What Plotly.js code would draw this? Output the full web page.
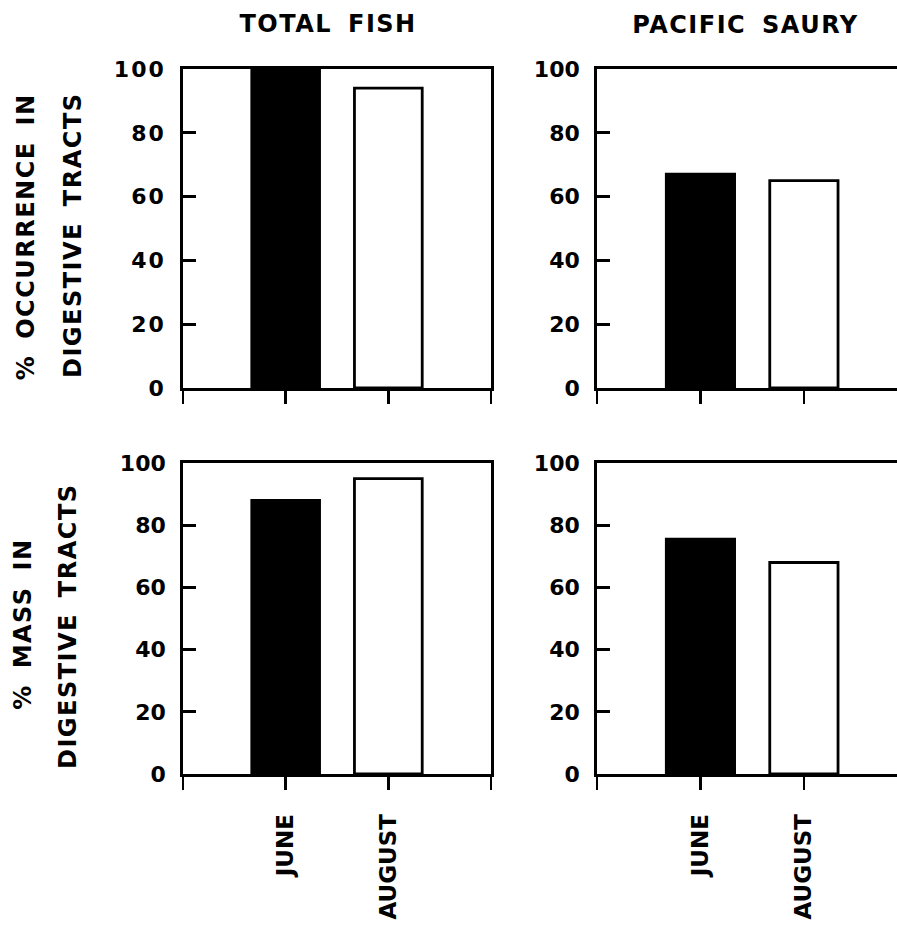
<!DOCTYPE html>
<html>
<head>
<meta charset="utf-8">
<script src="https://cdn.plot.ly/plotly-3.0.1.min.js"></script>
<style>
html,body{margin:0;padding:0;background:#fff;}
#chart{width:897px;height:933px;}
#chart .ytick text{letter-spacing:2px;}
#chart .xtick text{letter-spacing:1px;}
#chart .annotation-text{letter-spacing:1.5px;word-spacing:6px;}
</style>
</head>
<body>
<div id="chart"></div>
<script>
// ---- data ----
const months = ['JUNE', 'AUGUST'];
const occurrenceTotalFish = [100, 94];
const occurrencePacificSaury = [67, 65];
const massTotalFish = [88, 95];
const massPacificSaury = [75.5, 68];
const yTickVals = [0, 20, 40, 60, 80, 100];
const panelTitles = ['TOTAL FISH', 'PACIFIC SAURY'];
const rowTitlesOccurrence = ['% OCCURRENCE IN', 'DIGESTIVE TRACTS'];
const rowTitlesMass = ['% MASS IN', 'DIGESTIVE TRACTS'];

// ---- styling ----
const W = 897, H = 933;
const FONT = 'DejaVu Sans';
const barColors = ['#000000', '#ffffff'];
const xIdx = months.map((m, i) => i);

function barTrace(vals, xa, ya) {
  return {
    type: 'bar', x: xIdx, y: vals, xaxis: xa, yaxis: ya,
    width: 0.66,
    marker: {color: barColors, line: {color: '#000', width: 2.8}},
    hoverinfo: 'x+y', showlegend: false
  };
}

const data = [
  barTrace(occurrenceTotalFish, 'x', 'y'),
  barTrace(occurrencePacificSaury, 'x2', 'y2'),
  barTrace(massTotalFish, 'x3', 'y3'),
  barTrace(massPacificSaury, 'x4', 'y4')
];

const leftDom = [183 / W, 491 / W];
const rightDom = [597 / W, 1];
const topDom = [1 - 388 / H, 1 - 69 / H];
const botDom = [1 - 774 / H, 1 - 463 / H];

function xAxis(dom, anchor, left, showLabels) {
  return {
    domain: dom, anchor: anchor,
    range: left ? [-1, 2] : [-1, 1.9],
    tickmode: 'array',
    tickvals: left ? [-1, 0, 1, 2] : [-1, 0, 1],
    ticktext: showLabels ? (left ? [''].concat(months, ['']) : [''].concat(months)) : (left ? ['', '', '', ''] : ['', '', '']),
    ticks: 'outside', ticklen: 13, tickwidth: 2.8, tickcolor: '#000',
    tickangle: -90,
    ticklabelstandoff: 15,
    showline: true, linewidth: 2.8, linecolor: '#000',
    mirror: true,
    showgrid: false, zeroline: false, fixedrange: true,
    tickfont: {family: FONT, size: 23, color: '#000', weight: 'bold'}
  };
}
function yAxis(dom, anchor, left) {
  return {
    domain: dom, anchor: anchor,
    range: [0, 100],
    tickmode: 'array', tickvals: yTickVals,
    ticks: 'inside', ticklen: 13, tickwidth: 2.8, tickcolor: '#000',
    ticklabelstandoff: 10,
    showline: true, linewidth: 2.8, linecolor: '#000',
    mirror: left ? true : false,
    showgrid: false, zeroline: false, fixedrange: true,
    tickfont: {family: FONT, size: 22, color: '#000', weight: 'bold'}
  };
}

const titleFont = {family: FONT, size: 24, color: '#000', weight: 'bold'};
const annotations = [
  {text: panelTitles[0], x: 328 / W, y: 1 - 24 / H},
  {text: panelTitles[1], x: 746 / W, y: 1 - 25 / H},
  {text: rowTitlesOccurrence[0], x: 26 / W, y: 1 - 237 / H, textangle: -90},
  {text: rowTitlesOccurrence[1], x: 73 / W, y: 1 - 235 / H, textangle: -90},
  {text: rowTitlesMass[0], x: 23 / W, y: 1 - 624 / H, textangle: -90},
  {text: rowTitlesMass[1], x: 68 / W, y: 1 - 626 / H, textangle: -90}
].map(a => Object.assign({
  xref: 'paper', yref: 'paper', xanchor: 'center', yanchor: 'middle',
  showarrow: false, font: titleFont
}, a));

const layout = {
  width: W, height: H,
  margin: {l: 0, r: 0, t: 0, b: 0},
  paper_bgcolor: '#fff', plot_bgcolor: '#fff',
  bargap: 0,
  xaxis: xAxis(leftDom, 'y', true, false),
  yaxis: yAxis(topDom, 'x', true),
  xaxis2: xAxis(rightDom, 'y2', false, false),
  yaxis2: yAxis(topDom, 'x2', false),
  xaxis3: xAxis(leftDom, 'y3', true, true),
  yaxis3: yAxis(botDom, 'x3', true),
  xaxis4: xAxis(rightDom, 'y4', false, true),
  yaxis4: yAxis(botDom, 'x4', false),
  annotations: annotations
};

Plotly.newPlot('chart', data, layout, {displayModeBar: false, staticPlot: true});
</script>
</body>
</html>
